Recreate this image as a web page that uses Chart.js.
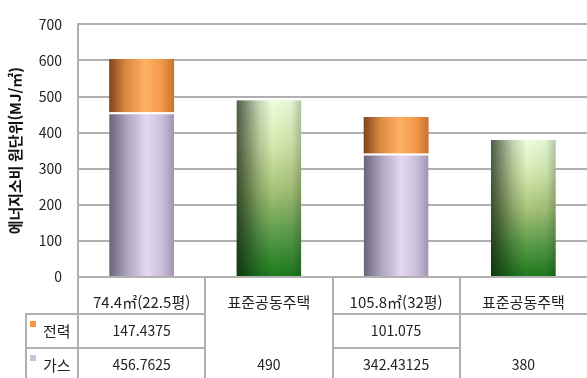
<!DOCTYPE html>
<html lang="ko">
<head>
<meta charset="utf-8">
<script src="https://cdn.jsdelivr.net/npm/chart.js@4.4.0/dist/chart.umd.min.js"></script>
<style>
  html, body { margin: 0; padding: 0; background: #fff; }
  #wrap { width: 587px; height: 378px; }
</style>
</head>
<body>
<div id="wrap"><canvas id="chart" width="587" height="378"></canvas></div>
<script>
// 주택 규모별 에너지소비 원단위 (MJ/㎡)
const categories = ["74.4㎡(22.5평)", "표준공동주택", "105.8㎡(32평)", "표준공동주택"];
const power = [147.4375, null, 101.075, null];
const gas = [456.7625, 490, 342.43125, 380];
const yTicks = [0, 100, 200, 300, 400, 500, 600, 700];
const yTitle = "에너지소비 원단위(MJ/㎡)";

const FONT = '"Noto Sans CJK KR", "Noto Sans", sans-serif';
const BAR_PCT = 0.51;
const LINE = "#b0b0b0";
const SWATCH = { 전력: "#f79646", 가스: "#ccc0da" };

// 막대 좌우 위치 (x 스케일 기준)
function barSpan(chart, idx) {
  const xs = chart.scales.x;
  const w = (xs.width / categories.length) * BAR_PCT;
  const cx = xs.getPixelForValue(idx);
  return { left: cx - w / 2, right: cx + w / 2 };
}

function hGradient(chart, idx, stops) {
  const { left, right } = barSpan(chart, idx);
  const g = chart.ctx.createLinearGradient(left, 0, right, 0);
  stops.forEach(([p, c]) => g.addColorStop(p, c));
  return g;
}

const orangeStops = [[0, "#7e451a"], [0.25, "#d88840"], [0.55, "#ffb062"], [0.8, "#f39a4a"], [1, "#c8732e"]];
const lilacStops = [[0, "#6a6378"], [0.28, "#b0a5c2"], [0.58, "#e4d9f1"], [0.82, "#c9bdd8"], [1, "#a094b2"]];

// 표준공동주택 막대: 위는 밝은 연두, 아래는 진한 녹색, 왼쪽은 어둡게
function greenPattern(chart, idx, value) {
  const off = document.createElement("canvas");
  off.width = chart.width;
  off.height = chart.height;
  const c = off.getContext("2d");
  const { left, right } = barSpan(chart, idx);
  const top = chart.scales.y.getPixelForValue(value);
  const bottom = chart.scales.y.getPixelForValue(0);
  const v = c.createLinearGradient(0, top, 0, bottom);
  v.addColorStop(0, "#eeffdc");
  v.addColorStop(0.25, "#d4e8ae");
  v.addColorStop(0.5, "#a9c47a");
  v.addColorStop(0.75, "#5e9e4c");
  v.addColorStop(1, "#1c7a1c");
  c.fillStyle = v;
  c.fillRect(left, top, right - left, bottom - top);
  const h = c.createLinearGradient(left, 0, right, 0);
  h.addColorStop(0, "rgba(10,25,10,0.7)");
  h.addColorStop(0.35, "rgba(10,25,10,0.18)");
  h.addColorStop(0.55, "rgba(10,25,10,0)");
  h.addColorStop(0.85, "rgba(10,25,10,0.05)");
  h.addColorStop(1, "rgba(10,25,10,0.25)");
  c.fillStyle = h;
  c.fillRect(left, top, right - left, bottom - top);
  return chart.ctx.createPattern(off, "no-repeat");
}

// 차트 아래 데이터 표
const dataTable = {
  id: "dataTable",
  afterDraw(chart) {
    const ctx = chart.ctx;
    const xs = chart.scales.x;
    const n = categories.length;
    const colW = xs.width / n;
    const edges = [];
    for (let i = 0; i <= n; i++) edges.push(xs.left + colW * i);
    const top = chart.chartArea.bottom;
    const r1 = 314, r2 = 348, end = chart.height;
    const legendLeft = 26;

    ctx.save();
    ctx.strokeStyle = LINE;
    ctx.lineWidth = 2;
    const seg = (x1, y1, x2, y2) => {
      ctx.beginPath(); ctx.moveTo(x1, y1); ctx.lineTo(x2, y2); ctx.stroke();
    };
    for (let i = 0; i < n; i++) seg(Math.round(edges[i]), top, Math.round(edges[i]), end);
    seg(legendLeft, r1 - 1, legendLeft, end);
    seg(legendLeft - 1, r1, Math.round(edges[0]), r1);
    seg(legendLeft - 1, r2, Math.round(edges[0]), r2);
    for (let i = 0; i < n; i++) {
      if (power[i] !== null || i === n - 1) seg(edges[i], r1, edges[i + 1], r1);
      if (power[i] !== null) seg(edges[i], r2, edges[i + 1], r2);
    }

    ctx.fillStyle = "#222";
    ctx.textAlign = "center";
    ctx.textBaseline = "middle";
    categories.forEach((label, i) => {
      const cx = (edges[i] + edges[i + 1]) / 2;
      ctx.font = "15px " + FONT;
      ctx.fillText(label, cx, 302);
      ctx.font = "14px " + FONT;
      if (power[i] !== null) ctx.fillText(String(power[i]), cx, 331);
      ctx.fillText(String(gas[i]), cx, 365);
    });

    ctx.textAlign = "left";
    ctx.font = "15px " + FONT;
    [["전력", 331], ["가스", 365]].forEach(([name, y]) => {
      ctx.fillStyle = SWATCH[name];
      ctx.fillRect(30, y - 10, 6, 6);
      ctx.fillStyle = "#222";
      ctx.fillText(name, 43, y);
    });
    ctx.restore();
  }
};

new Chart(document.getElementById("chart"), {
  type: "bar",
  data: {
    labels: categories,
    datasets: [
      {
        label: "가스",
        data: gas,
        backgroundColor: (c) => {
          if (c.type !== "data" || !c.chart.chartArea) return SWATCH["가스"];
          if (power[c.dataIndex] === null) return greenPattern(c.chart, c.dataIndex, gas[c.dataIndex]);
          return hGradient(c.chart, c.dataIndex, lilacStops);
        },
        borderColor: "#ffffff",
        borderWidth: (c) => (power[c.dataIndex] !== null ? { top: 2, left: 0, right: 0, bottom: 0 } : 0),
        borderSkipped: false,
      },
      {
        label: "전력",
        data: power,
        backgroundColor: (c) => {
          if (c.type !== "data" || !c.chart.chartArea) return SWATCH["전력"];
          return hGradient(c.chart, c.dataIndex, orangeStops);
        },
        borderWidth: 0,
      },
    ],
  },
  options: {
    responsive: false,
    animation: false,
    events: [],
    layout: { padding: { top: 15, bottom: 101, right: 0, left: 0 } },
    datasets: { bar: { categoryPercentage: 1, barPercentage: BAR_PCT } },
    plugins: {
      legend: { display: false },
      tooltip: { enabled: false },
    },
    scales: {
      x: { stacked: true, display: false },
      y: {
        stacked: true,
        min: yTicks[0],
        max: yTicks[yTicks.length - 1],
        afterBuildTicks: (s) => { s.ticks = yTicks.map((v) => ({ value: v })); },
        afterFit: (s) => { s.width = 78; },
        ticks: { color: "#222", padding: 16, font: { family: FONT, size: 14 } },
        grid: { color: LINE, lineWidth: 2, drawTicks: false },
        border: { color: LINE, width: 2 },
        title: {
          display: true,
          text: yTitle,
          color: "#111",
          padding: { top: 6, bottom: 0 },
          font: { family: FONT, size: 15, weight: "bold" },
        },
      },
    },
  },
  plugins: [dataTable],
});
</script>
</body>
</html>
